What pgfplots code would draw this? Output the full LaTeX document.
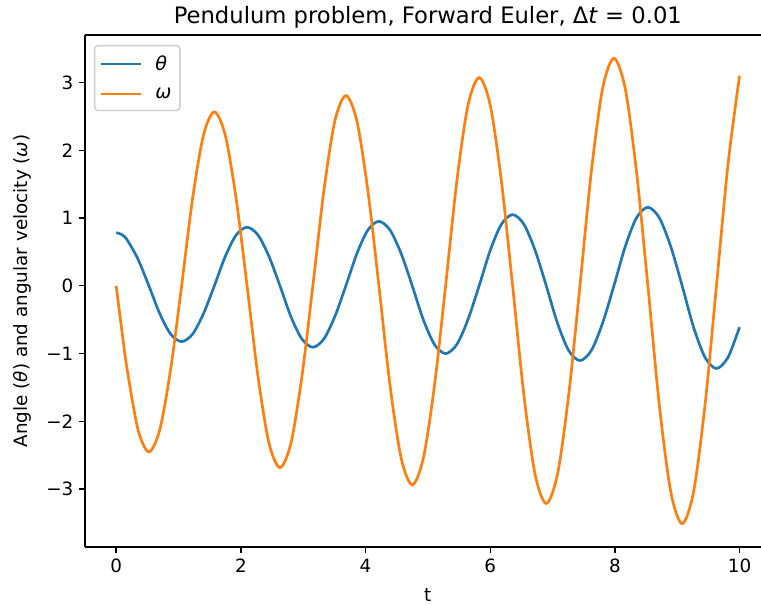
\documentclass[border=0pt]{standalone}
\usepackage{fontspec}
\setmainfont{DejaVu Sans}
\usepackage{pgfplots}
\usepackage{pgfplotstable}
\pgfplotsset{compat=1.18}
\definecolor{mblue}{HTML}{1F77B4}
\definecolor{morange}{HTML}{FF7F0E}
\definecolor{legframe}{HTML}{CCCCCC}

\pgfplotstableread{
t theta
0 0.785
0.0875 0.758
0.175 0.680
0.35 0.393
0.525 0
0.70 -0.412
0.875 -0.714
1.05 -0.824
1.225 -0.714
1.40 -0.412
1.575 0
1.75 0.433
1.925 0.749
2.10 0.865
2.276 0.749
2.452 0.433
2.628 0
2.803 -0.454
2.979 -0.785
3.155 -0.907
3.332 -0.785
3.508 -0.454
3.685 0
3.862 0.476
4.038 0.824
4.215 0.952
4.393 0.824
4.572 0.476
4.750 0
4.928 -0.501
5.107 -0.867
5.285 -1.001
5.464 -0.867
5.643 -0.501
5.823 0
6.002 0.526
6.181 0.910
6.36 1.051
6.54 0.910
6.72 0.526
6.90 0
7.08 -0.552
7.26 -0.956
7.44 -1.104
7.622 -0.956
7.803 -0.552
7.985 0
8.167 0.580
8.348 1.005
8.53 1.160
8.713 1.005
8.897 0.580
9.08 0
9.263 -0.611
9.447 -1.057
9.63 -1.221
9.815 -1.057
10.0 -0.611
}\thetatable

\pgfplotstableread{
t omega
0 0
0.0875 -0.634
0.175 -1.226
0.35 -2.123
0.525 -2.451
0.70 -2.123
0.875 -1.226
1.05 0
1.225 1.284
1.40 2.224
1.575 2.568
1.75 2.224
1.925 1.284
2.10 0
2.276 -1.343
2.452 -2.325
2.628 -2.685
2.803 -2.325
2.979 -1.343
3.155 0
3.332 1.404
3.508 2.432
3.685 2.808
3.862 2.432
4.038 1.404
4.215 0
4.393 -1.469
4.572 -2.544
4.750 -2.938
4.928 -2.544
5.107 -1.469
5.285 0
5.464 1.537
5.643 2.662
5.823 3.074
6.002 2.662
6.181 1.537
6.36 0
6.54 -1.607
6.72 -2.782
6.90 -3.213
7.08 -2.782
7.26 -1.607
7.44 0
7.622 1.680
7.803 2.909
7.985 3.359
8.167 2.909
8.348 1.680
8.53 0
8.713 -1.756
8.897 -3.041
9.08 -3.512
9.263 -3.041
9.447 -1.756
9.63 0
9.815 1.79
10.0 3.10
}\omegatable

\begin{document}
\begin{tikzpicture}
\begin{axis}[
  name=ax,
  width=411.4pt, height=307.2pt, scale only axis,
  xmin=-0.5, xmax=10.5, ymin=-3.856, ymax=3.703,
  axis lines*=left,
  axis line style={-, line width=0.8pt},
  xtick={0,2,4,6,8,10}, xticklabels={0,2,4,6,8,10},
  ytick={-3,-2,-1,0,1,2,3}, yticklabels={−3,−2,−1,0,1,2,3},
  tick align=outside, xtick pos=bottom, ytick pos=left,
  major tick length=3.5pt,
  every tick/.style={black, line width=0.8pt},
  ticklabel style={font=\fontsize{11}{13}\selectfont},
  title={Pendulum problem, Forward Euler, Δ\textit{t} = 0.01},
  title style={font=\fontsize{13.6}{16}\selectfont, at={(axis description cs:0.5,1)}, anchor=base, yshift=1pt},
  xlabel={t},
  xlabel style={font=\fontsize{11}{13}\selectfont, at={(axis description cs:0.5,-0.1074)}, anchor=base},
  ylabel={Angle (\textit{θ}) and angular velocity (\textit{ω})},
  ylabel style={font=\fontsize{11}{13}\selectfont, at={(axis description cs:-0.0919,0.5)}, anchor=center},
  legend style={at={(axis description cs:0.0131,0.9805)}, anchor=north west, draw=legframe, rounded corners=2pt, line width=0.8pt, font=\fontsize{11.5}{13}\selectfont, inner xsep=3pt, inner ysep=4pt, row sep=4.8pt},
  legend cell align=left,
  legend image code/.code={\draw[#1, line width=1.5pt] (0pt,0pt) -- (24pt,0pt);},
]
\addplot[mblue, line width=1.6pt, smooth] table[x=t,y=theta]{\thetatable};
\addlegendentry{\hspace{6pt}\textit{θ}\hspace{1pt}}
\addplot[morange, line width=1.6pt, smooth] table[x=t,y=omega]{\omegatable};
\addlegendentry{\hspace{6pt}\textit{ω}\hspace{1pt}}
\draw[line width=0.8pt] (rel axis cs:0,1) -- (rel axis cs:1,1);
\end{axis}
\pgfresetboundingbox
\path ([xshift=-51pt,yshift=-34.8pt]ax.south west) rectangle ([xshift=405.6pt,yshift=328.2pt]ax.south west);
\end{tikzpicture}
\end{document}
